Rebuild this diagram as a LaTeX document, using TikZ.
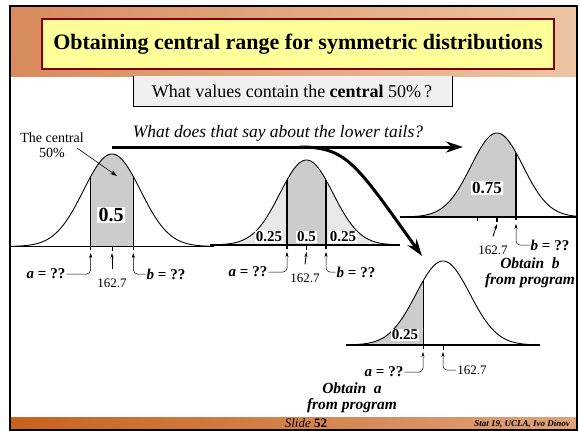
\documentclass[tikz,border=0pt]{standalone}
\usepackage{fontspec}
\setmainfont{Liberation Serif}
\usetikzlibrary{arrows.meta}
\definecolor{hdrL}{HTML}{D88A5C}
\definecolor{hdrR}{HTML}{EDC5A2}
\definecolor{ftrL}{HTML}{C8621C}
\definecolor{ftrR}{HTML}{E0A27C}
\definecolor{titleY}{HTML}{FFFF99}
\definecolor{titleB}{HTML}{800000}
\definecolor{qbox}{HTML}{F0F0F0}
\definecolor{shadeD}{HTML}{CCCCCC}
\definecolor{shadeL}{HTML}{E8E8E8}
\tikzset{
  declare function={bell(\vx,\vm,\vs,\vh,\vb)=\vb-\vh*exp(-0.5*((\vx-\vm)/\vs)^2);},
  curveline/.style={line width=0.9pt},
  axisline/.style={line width=1.4pt},
  bigarrow/.style={line width=3pt,-{Stealth[length=17pt,width=11pt]}},
  smallarr/.style={line width=0.5pt,-{Stealth[length=5pt,width=3pt]}},
  lab/.style={font=\fontsize{15}{17}\selectfont\bfseries, inner sep=1pt},
  num/.style={font=\fontsize{13}{15}\selectfont, inner sep=1pt},
  areaA/.style={fill=white, inner sep=1.5pt, font=\fontsize{20}{22}\selectfont\bfseries},
  areaB/.style={fill=white, inner sep=1pt, font=\fontsize{15}{17}\selectfont\bfseries},
  obtain/.style={font=\fontsize{15.5}{16}\selectfont\bfseries\itshape, align=center, inner sep=0pt},
}
\begin{document}
\begin{tikzpicture}[x=1pt,y=-1pt]
\useasboundingbox (0,0) rectangle (579,431);
\fill[white] (0,0) rectangle (579,431);
% header and footer bands
\shade[left color=hdrL,right color=hdrR] (10,6) rectangle (576,76);
\shade[left color=ftrL,right color=ftrR] (10,417) rectangle (576,429);
% title
\node[draw=titleB, line width=2pt, fill=titleY, minimum width=512pt, minimum height=50pt,
      font=\fontsize{22}{26}\selectfont\bfseries] (title) at (298,44)
      {Obtaining central range for symmetric distributions};
% question box
\fill[qbox] (133,76) rectangle (452,106);
\draw[line width=0.8pt] (133,76) -- (133,106) -- (452,106) -- (452,76);
\node[font=\fontsize{18}{20}\selectfont] (q) at (292,91)
      {What values contain the \textbf{central} 50\%\,?};

% ---------- curve 1 ----------
\fill[shadeD] (90.7,246.5) -- plot[domain=90.7:133.3,samples=30] (\x,{bell(\x,112,28.5,92.5,246.5)}) -- (133.3,246.5) -- cycle;
\draw[curveline] plot[domain=10:214,samples=120] (\x,{bell(\x,112,28.5,92.5,246.5)});
\draw[line width=1.3pt] (90.7,250) -- (90.7,{bell(90.7,112,28.5,92.5,246.5)});
\draw[line width=1.3pt] (133.3,250) -- (133.3,{bell(133.3,112,28.5,92.5,246.5)});
\draw[axisline] (10,246.5) -- (214,246.5);
\draw[line width=1pt] (112,246.5) -- (112,251);
\node[areaA] (v1) at (111,215) {0.5};
\coordinate (t1a) at (90.7,253);
\coordinate (t1m) at (112,253);
\coordinate (t1b) at (133.3,253);
\node[lab] (la1) at (46,274) {\textit{a} = ??};
\node[lab] (lb1) at (166,274) {\textit{b} = ??};
\node[num] (n1) at (112,283) {162.7};
\draw[smallarr, rounded corners=4pt] (la1.east) -| (t1a);
\draw[smallarr, rounded corners=4pt] (lb1.west) -| (t1b);
\draw[smallarr, line width=0.9pt] ([yshift=8pt]n1.north) -- (t1m);
% central 50% label
\node[font=\fontsize{14}{15}\selectfont, align=center, inner sep=0pt] (tc) at (52,145) {The central\\50\%};
\coordinate (tcs) at (77,148);
\coordinate (tce) at (117,176);
\draw[line width=0.6pt,-{Stealth[length=7pt,width=4.5pt]}] (tcs) -- (tce);

% ---------- curve 2 ----------
\fill[shadeL] (218,245) -- plot[domain=218:395,samples=120] (\x,{bell(\x,306.5,26.6,85,245)}) -- cycle;
\fill[shadeD] (287,245) -- plot[domain=287:326,samples=30] (\x,{bell(\x,306.5,26.6,85,245)}) -- (326,245) -- cycle;
\draw[curveline] plot[domain=218:395,samples=120] (\x,{bell(\x,306.5,26.6,85,245)});
\draw[line width=1.3pt] (287,249) -- (287,{bell(287,306.5,26.6,85,245)});
\draw[line width=1.3pt] (326,249) -- (326,{bell(326,306.5,26.6,85,245)});
\draw[axisline] (210,245) -- (400,245);
\draw[line width=1pt] (306.5,245) -- (306.5,250);
\node[areaB] (v2a) at (269,237) {0.25};
\node[areaB] (v2b) at (306.5,237) {0.5};
\node[areaB] (v2c) at (343,237) {0.25};
\coordinate (t2a) at (287,252);
\coordinate (t2m) at (306.5,252);
\coordinate (t2b) at (326,252);
\node[lab] (la2) at (248,272) {\textit{a} = ??};
\node[lab] (lb2) at (356,272) {\textit{b} = ??};
\node[num] (n2) at (305,278) {162.7};
\draw[smallarr, rounded corners=4pt] (la2.east) -| (t2a);
\draw[smallarr, rounded corners=4pt] (lb2.west) -| (t2b);
\draw[smallarr, line width=0.9pt] ([yshift=8pt]n2.north) -- (t2m);

% ---------- curve 3 ----------
\fill[shadeD] (403,217) -- plot[domain=403:516,samples=80] (\x,{bell(\x,497,26,84,217)}) -- (516,217) -- cycle;
\draw[curveline] plot[domain=403:576,samples=120] (\x,{bell(\x,497,26,84,217)});
\draw[line width=2.2pt] (516,220) -- (516,{bell(516,497,26,84,217)});
\draw[axisline] (400,217) -- (576,217);
\draw[line width=1pt] (477,217) -- (477,221);
\draw[line width=1.4pt] (497,217) -- (497,222);
\node[areaB, font=\fontsize{17}{19}\selectfont\bfseries] (v3) at (487,188) {0.75};
\coordinate (t3m) at (497,224);
\coordinate (t3b) at (516,224);
\node[num] (n3) at (493,250) {162.7};
\node[lab] (lb3) at (550,245) {\textit{b} = ??};
\draw[smallarr, line width=0.9pt] ([yshift=8pt]n3.north) -- (t3m);
\draw[smallarr, rounded corners=4pt] (lb3.west) -| (t3b);
\node[obtain] (ob) at (530,273) {Obtain\ \ b\\from program};

% ---------- curve 4 ----------
\fill[shadeD] (347,345) -- plot[domain=347:423,samples=60] (\x,{bell(\x,443,27,84,345)}) -- (423,345) -- cycle;
\draw[curveline] plot[domain=347:539,samples=120] (\x,{bell(\x,443,27,84,345)});
\draw[line width=0.9pt] (423,349) -- (423,{bell(423,443,27,84,345)});
\draw[axisline] (346,345) -- (540,345);
\draw[line width=1pt] (443,345) -- (443,350);
\node[areaB] (v4) at (405,335) {0.25};
\coordinate (t4a) at (423,352);
\coordinate (t4m) at (443,352);
\node[lab] (la4) at (384,372) {\textit{a} = ??};
\node[num] (n4) at (472,370) {162.7};
\draw[smallarr, rounded corners=4pt] (la4.east) -| (t4a);
\draw[smallarr, rounded corners=4pt] (n4.west) -| (t4m);
\node[obtain] (oa) at (352,398) {Obtain\ \ a\\from program};

% ---------- big arrows ----------
\node[font=\fontsize{17.5}{19}\selectfont\itshape] (qt) at (278,133) {What does that say about the lower tails?};
\coordinate (hs) at (112,147);
\coordinate (he) at (463,147);
\draw[bigarrow] (hs) -- (he);
\coordinate (cs) at (300,147);
\coordinate (ce) at (422,256);
\draw[bigarrow] (cs) .. controls (347,147) and (356,164) .. (ce);

% footer text
\node[font=\fontsize{13}{14}\selectfont, inner sep=0pt, anchor=base] (sl) at (306,427) {\textit{Slide} \textbf{52}};
\node[font=\fontsize{9}{10}\selectfont\bfseries\itshape, inner sep=0pt, anchor=base east] (st) at (570,426) {Stat 19, UCLA, Ivo Dinov};

% frame
\draw[line width=2pt] (9.5,5.5) rectangle (576.5,429.5);
\end{tikzpicture}
\end{document}
